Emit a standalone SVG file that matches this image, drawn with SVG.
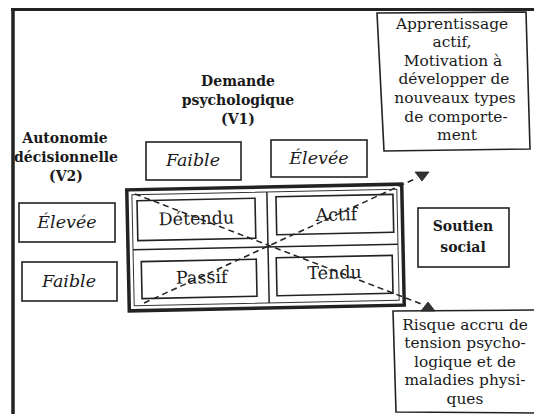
<svg xmlns="http://www.w3.org/2000/svg" width="534" height="414" viewBox="0 0 534 414">
<defs>
<style>
.bx{fill:#fff;stroke:#222;stroke-width:1.6}
.t{font-family:"DejaVu Serif","Liberation Serif",serif;fill:#1a1a1a;text-anchor:middle}
.b{font-weight:bold;font-size:14px}
.i{font-style:italic;font-size:17.5px}
.c{font-size:17.5px}
.n{font-size:15.4px}
.d{fill:none;stroke:#222;stroke-width:1.5;stroke-dasharray:6 4}
.ah{fill:#333;stroke:#222;stroke-width:0.8}
</style>
</defs>
<rect width="534" height="414" fill="#fff"/>

<g id="v2-label">
<text class="t b" x="65" y="143">Autonomie</text>
<text class="t b" x="66" y="162">décisionnelle</text>
<text class="t b" x="66" y="181">(V2)</text>
</g>
<g id="v1-label">
<text class="t b" x="238" y="86" font-size="13.5">Demande</text>
<text class="t b" x="238" y="105" font-size="13.5">psychologique</text>
<text class="t b" x="238" y="124" font-size="13.5">(V1)</text>
</g>

<g id="frame">
<line x1="13" y1="8" x2="13" y2="414" stroke="#222" stroke-width="3.5"/>
<line x1="11" y1="9.5" x2="534" y2="9.5" stroke="#222" stroke-width="3"/>
</g>

<g id="v1-faible"><rect class="bx" x="146" y="142" width="95" height="38"/><text class="t i" x="193" y="166">Faible</text></g>
<g id="v1-elevee"><rect class="bx" x="271" y="140" width="96" height="37"/><text class="t i" x="319" y="164">Élevée</text></g>
<g id="v2-elevee"><rect class="bx" x="19" y="203" width="96" height="39"/><text class="t i" x="67" y="228">Élevée</text></g>
<g id="v2-faible"><rect class="bx" x="22" y="262" width="95" height="39"/><text class="t i" x="69" y="287">Faible</text></g>

<g id="grid" transform="rotate(-1.2 265 247)">
<rect x="128" y="187" width="275" height="121" fill="#fff" stroke="#222" stroke-width="3.5"/>
<rect x="133" y="192" width="265" height="111" fill="none" stroke="#333" stroke-width="1"/>
<line x1="268" y1="192" x2="268" y2="303" stroke="#222" stroke-width="1.5"/>
<line x1="133" y1="247" x2="398" y2="247" stroke="#222" stroke-width="1.5"/>
<g id="detendu"><rect class="bx" x="138" y="198" width="118" height="40"/><text class="t c" x="197" y="223">Détendu</text></g>
<g id="actif"><rect class="bx" x="277" y="197" width="117" height="38"/><text class="t c" x="337" y="222">Actif</text></g>
<g id="passif"><rect class="bx" x="141" y="259" width="115" height="37"/><text class="t c" x="201" y="282">Passif</text></g>
<g id="tendu"><rect class="bx" x="276" y="258" width="116" height="38"/><text class="t c" x="334" y="280">Tendu</text></g>
</g>

<g id="soutien"><rect class="bx" x="418" y="208" width="91" height="59"/>
<text class="t b" x="463" y="231" font-size="15">Soutien</text>
<text class="t b" x="463" y="252" font-size="15">social</text></g>

<g id="apprentissage">
<polygon class="bx" points="377,13 526,12 530,149 384,151"/>
<text class="t n" x="452" y="29">Apprentissage</text>
<text class="t n" x="452" y="47">actif,</text>
<text class="t n" x="453" y="66">Motivation à</text>
<text class="t n" x="454" y="84">développer de</text>
<text class="t n" x="455" y="103">nouveaux types</text>
<text class="t n" x="456" y="122">de comporte-</text>
<text class="t n" x="457" y="140">ment</text>
</g>

<g id="risque">
<polygon class="bx" points="393,311 540,310 540,413 396,412"/>
<text class="t n" x="465" y="330">Risque accru de</text>
<text class="t n" x="465" y="348">tension psycho-</text>
<text class="t n" x="465" y="367">logique et de</text>
<text class="t n" x="465" y="385">maladies physi-</text>
<text class="t n" x="465" y="404">ques</text>
</g>

<g id="connectors">
<line class="d" x1="135" y1="194" x2="424" y2="305"/>
<line class="d" x1="144" y1="303" x2="417" y2="178"/>
<polygon class="ah" points="415,172 429,172 422,181"/>
<polygon class="ah" points="421,311 435,311 428,302"/>
</g>
</svg>
